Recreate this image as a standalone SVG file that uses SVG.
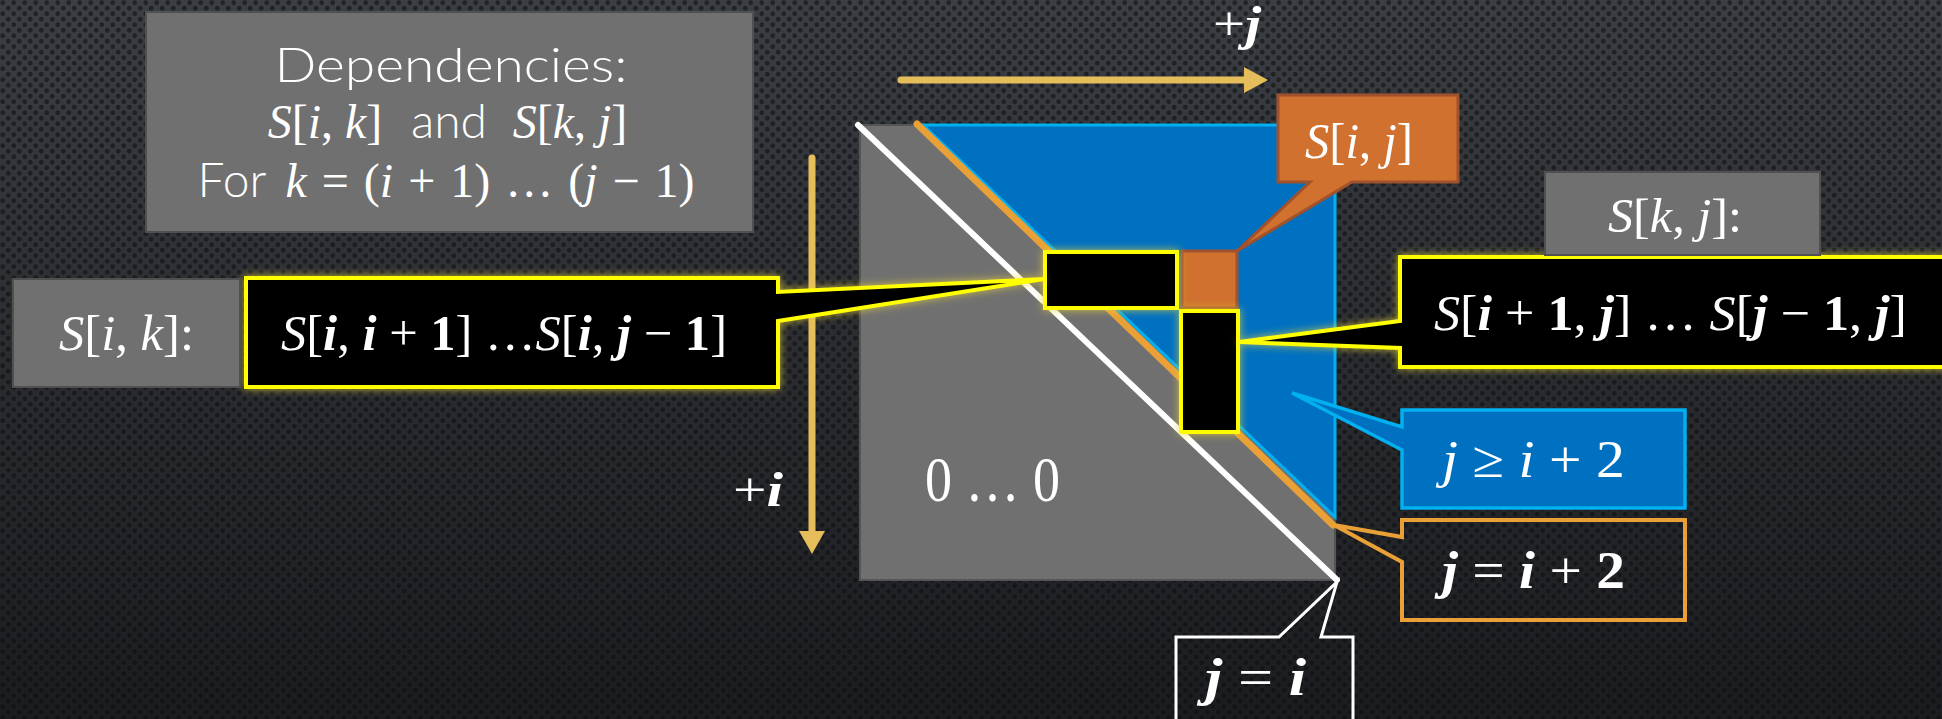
<svg xmlns="http://www.w3.org/2000/svg" width="1942" height="719" viewBox="0 0 1942 719">
<style>
.m{font-family:"Liberation Serif","DejaVu Serif",serif;font-weight:normal;fill:#fff;}
.i{font-style:italic;font-weight:normal;}
.b{font-style:italic;font-weight:bold;}
.s{font-family:Lato,"Liberation Sans",sans-serif;font-weight:300;fill:#fff;}
.gbox{fill:#707070;stroke:#505050;stroke-width:2;}
.ybox{fill:#000;stroke:#FFFF00;stroke-width:4;stroke-linejoin:miter;}
.axis{stroke:#E6BD5B;stroke-width:7;stroke-linecap:round;fill:none;}
.head{fill:#E6BD5B;}
</style>
<defs>
<linearGradient id="bg" x1="0" y1="0" x2="0" y2="1">
<stop offset="0" stop-color="#3b3e43"/>
<stop offset="0.5" stop-color="#2a2c30"/>
<stop offset="1" stop-color="#1b1c1f"/>
</linearGradient>
<pattern id="dots" width="11" height="11" patternUnits="userSpaceOnUse">
<circle cx="2.75" cy="2.75" r="2.4" fill="#0b0c0e" fill-opacity="0.55"/>
<circle cx="8.25" cy="8.25" r="2.4" fill="#0b0c0e" fill-opacity="0.55"/>
</pattern>
<filter id="glow" x="-20%" y="-20%" width="140%" height="140%">
<feGaussianBlur in="SourceAlpha" stdDeviation="4" result="b"/>
<feFlood flood-color="#E8D23A" flood-opacity="0.8"/>
<feComposite in2="b" operator="in" result="g"/>
<feMerge><feMergeNode in="g"/><feMergeNode in="SourceGraphic"/></feMerge>
</filter>
</defs>
<rect width="1942" height="719" fill="url(#bg)"/>
<rect width="1942" height="719" fill="url(#dots)"/>

<g id="dependencies">
<rect class="gbox" x="146" y="12" width="607" height="220"/>
<text class="s" x="451" y="82" font-size="47" text-anchor="middle" textLength="353" lengthAdjust="spacingAndGlyphs">Dependencies:</text>
<text class="m" x="325" y="138" font-size="48" text-anchor="middle"><tspan class="i">S</tspan>[<tspan class="i">i</tspan>, <tspan class="i">k</tspan>]</text>
<text class="s" x="449" y="138" font-size="48" text-anchor="middle">and</text>
<text class="m" x="570" y="138" font-size="48" text-anchor="middle"><tspan class="i">S</tspan>[<tspan class="i">k</tspan>, <tspan class="i">j</tspan>]</text>
<text class="s" x="232" y="197" font-size="48" text-anchor="middle">For</text>
<text class="m" x="490" y="197" font-size="48" text-anchor="middle" word-spacing="3"><tspan class="i">k</tspan> = (<tspan class="i">i</tspan> + 1) … (<tspan class="i">j</tspan> − 1)</text>
</g>

<g id="axis-j">
<line class="axis" x1="901" y1="80" x2="1246" y2="80"/>
<polygon class="head" points="1244,67 1268,80 1244,93"/>
<text class="m" x="1213" y="40" font-size="48" textLength="48" lengthAdjust="spacingAndGlyphs">+<tspan class="b">j</tspan></text>
</g>

<g id="axis-i">
<line class="axis" x1="812" y1="158" x2="812" y2="533"/>
<polygon class="head" points="799,531 812,554 825,531"/>
<text class="m" x="733" y="506" font-size="48" textLength="50" lengthAdjust="spacingAndGlyphs">+<tspan class="b">i</tspan></text>
</g>

<g id="matrix">
<rect x="860" y="125" width="475" height="455" fill="#707070" stroke="#555" stroke-width="2"/>
<text class="m" x="925" y="501" font-size="64" textLength="135" lengthAdjust="spacingAndGlyphs">0 … 0</text>
<line x1="858" y1="125" x2="1337" y2="580" stroke="#fff" stroke-width="6" stroke-linecap="round"/>
<polygon points="923,125 1335,125 1335,517" fill="#0070C0" stroke="#00B0F0" stroke-width="3" stroke-linejoin="miter"/>
<line x1="917" y1="124" x2="1333" y2="525" stroke="#E9A036" stroke-width="7" stroke-linecap="round"/>
</g>

<g id="cell-ij">
<rect x="1182" y="251" width="55" height="57" fill="#D0712F" stroke="#A0522D" stroke-width="3"/>
</g>

<g id="row-cells" filter="url(#glow)">
<rect class="ybox" x="1045" y="252" width="132" height="56"/>
</g>
<g id="col-cells" filter="url(#glow)">
<rect class="ybox" x="1181" y="311" width="57" height="121"/>
</g>

<g id="callout-sik" filter="url(#glow)">
<path class="ybox" d="M246,278 H778 V292 L1044,279 L778,321 V387 H246 Z"/>
<text class="m" x="281" y="350" font-size="50" textLength="446" lengthAdjust="spacingAndGlyphs"><tspan class="i">S</tspan>[<tspan class="b">i</tspan>, <tspan class="b">i</tspan> + <tspan font-weight="bold">1</tspan>] …<tspan class="i">S</tspan>[<tspan class="b">i</tspan>, <tspan class="b">j</tspan> − <tspan font-weight="bold">1</tspan>]</text>
</g>

<g id="label-sik">
<rect class="gbox" x="13" y="279" width="227" height="108"/>
<text class="m" x="59" y="350" font-size="50" textLength="135" lengthAdjust="spacingAndGlyphs"><tspan class="i">S</tspan>[<tspan class="i">i</tspan>, <tspan class="i">k</tspan>]:</text>
</g>

<g id="callout-skj" filter="url(#glow)">
<path class="ybox" d="M1400,257 H1960 V367 H1400 V348 L1239,342 L1400,321 Z"/>
<text class="m" x="1434" y="330" font-size="50" textLength="473" lengthAdjust="spacingAndGlyphs"><tspan class="i">S</tspan>[<tspan class="b">i</tspan> + <tspan font-weight="bold">1</tspan>, <tspan class="b">j</tspan>] … <tspan class="i">S</tspan>[<tspan class="b">j</tspan> − <tspan font-weight="bold">1</tspan>, <tspan class="b">j</tspan>]</text>
</g>

<g id="label-skj">
<rect class="gbox" x="1545" y="172" width="275" height="83"/>
<text class="m" x="1608" y="232" font-size="48" textLength="134" lengthAdjust="spacingAndGlyphs"><tspan class="i">S</tspan>[<tspan class="i">k</tspan>, <tspan class="i">j</tspan>]:</text>
</g>

<g id="callout-sij">
<path d="M1278,95 H1458 V182 H1352 L1237,251 L1310,182 H1278 Z" fill="#D0712F" stroke="#A0522D" stroke-width="3" stroke-linejoin="miter"/>
<text class="m" x="1305" y="158" font-size="50" textLength="108" lengthAdjust="spacingAndGlyphs"><tspan class="i">S</tspan>[<tspan class="i">i</tspan>, <tspan class="i">j</tspan>]</text>
</g>

<g id="callout-jge">
<path d="M1402,410 H1685 V508 H1402 V450 L1292,393 L1402,427 Z" fill="#0070C0" stroke="#00B0F0" stroke-width="3.5"/>
<text class="m" x="1442" y="477" font-size="52" textLength="183" lengthAdjust="spacingAndGlyphs"><tspan class="i">j</tspan> ≥ <tspan class="i">i</tspan> + 2</text>
</g>

<g id="callout-jeq2">
<path d="M1402,520 H1685 V620 H1402 V562 L1334,525 L1402,537 Z" fill="none" stroke="#E9A036" stroke-width="4"/>
<text class="m" x="1442" y="588" font-size="52" textLength="183" lengthAdjust="spacingAndGlyphs"><tspan class="b">j</tspan> = <tspan class="b">i</tspan> + <tspan font-weight="bold">2</tspan></text>
</g>

<g id="callout-jeqi">
<path d="M1176,637 H1279 L1337,582 L1321,637 H1353 V730 H1176 Z" fill="none" stroke="#fff" stroke-width="3"/>
<text class="m" x="1205" y="695" font-size="52" textLength="101" lengthAdjust="spacingAndGlyphs"><tspan class="b">j</tspan> = <tspan class="b">i</tspan></text>
</g>

<g id="connectors"></g>
</svg>
